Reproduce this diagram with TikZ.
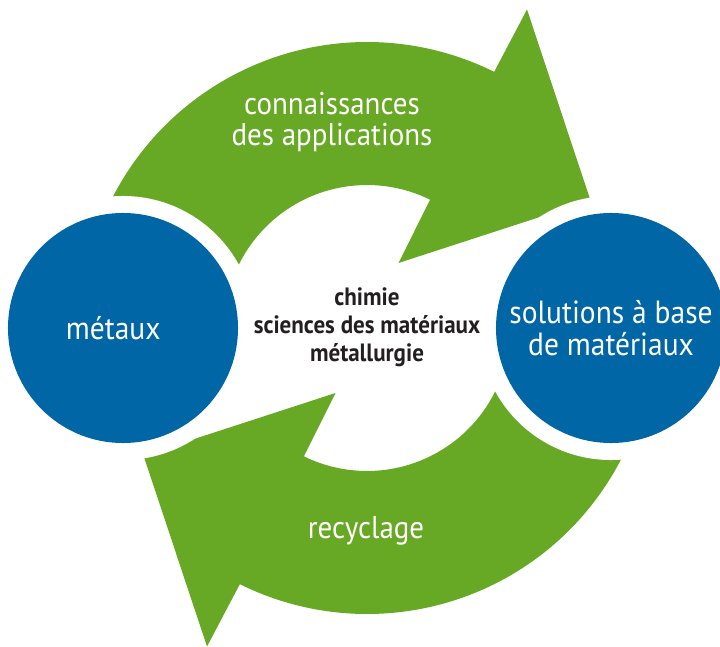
\documentclass[tikz,border=0pt]{standalone}
\usepackage{fontspec}
\setmainfont{PT Sans}[FakeStretch=0.92]
\definecolor{leafgreen}{RGB}{103,168,36}
\definecolor{seablue}{RGB}{0,102,166}
\definecolor{inkgray}{RGB}{35,31,32}
\tikzset{
    disc/.style={circle, fill=seablue, minimum size=5.75cm, inner sep=0pt,
        text=white, align=center, font=\fontsize{22.8}{22.5}\selectfont,
        preaction={draw=white, line width=0.85cm}},
    band/.style={fill=leafgreen},
    bandtext/.style={text=white, align=center, font=\fontsize{22.4}{22}\selectfont},
}
\begin{document}
\begin{tikzpicture}[x=0.025cm, y=0.025cm]
        \useasboundingbox (0,0) rectangle (720,646);
        \coordinate(hub) at (367, 318);

        % bands
        \begin{scope}[shift={(hub)}]
            \fill[band] (175:286) arc[start angle=175, end angle=63.6, radius=286]
                -- (160,318.5) -- (223.5,127.5) -- (31.5,65)
                -- (63.8:143) arc[start angle=63.8, end angle=175, radius=143] -- cycle;
            \fill[band, rotate=180] (175:286) arc[start angle=175, end angle=63.6, radius=286]
                -- (160,318.5) -- (223.5,127.5) -- (31.5,65)
                -- (63.8:143) arc[start angle=63.8, end angle=175, radius=143] -- cycle;
        \end{scope}

        % nodes
        \node(metaux) [disc] at (123, 318) {\hspace*{-14pt}métaux};
        \node(solutions) [disc] at (611, 318) {solutions à base\\de matériaux};
        \node(core) [text=inkgray, align=center, font=\bfseries\fontsize{17.8}{20}\selectfont] at (367, 319) {chimie\\sciences des matériaux\\métallurgie};
        \node(appli) [bandtext] at (332, 524) {connaissances\\des applications};
        \node(recycl) [bandtext] at (366, 115) {recyclage};

    \end{tikzpicture}
\end{document}
